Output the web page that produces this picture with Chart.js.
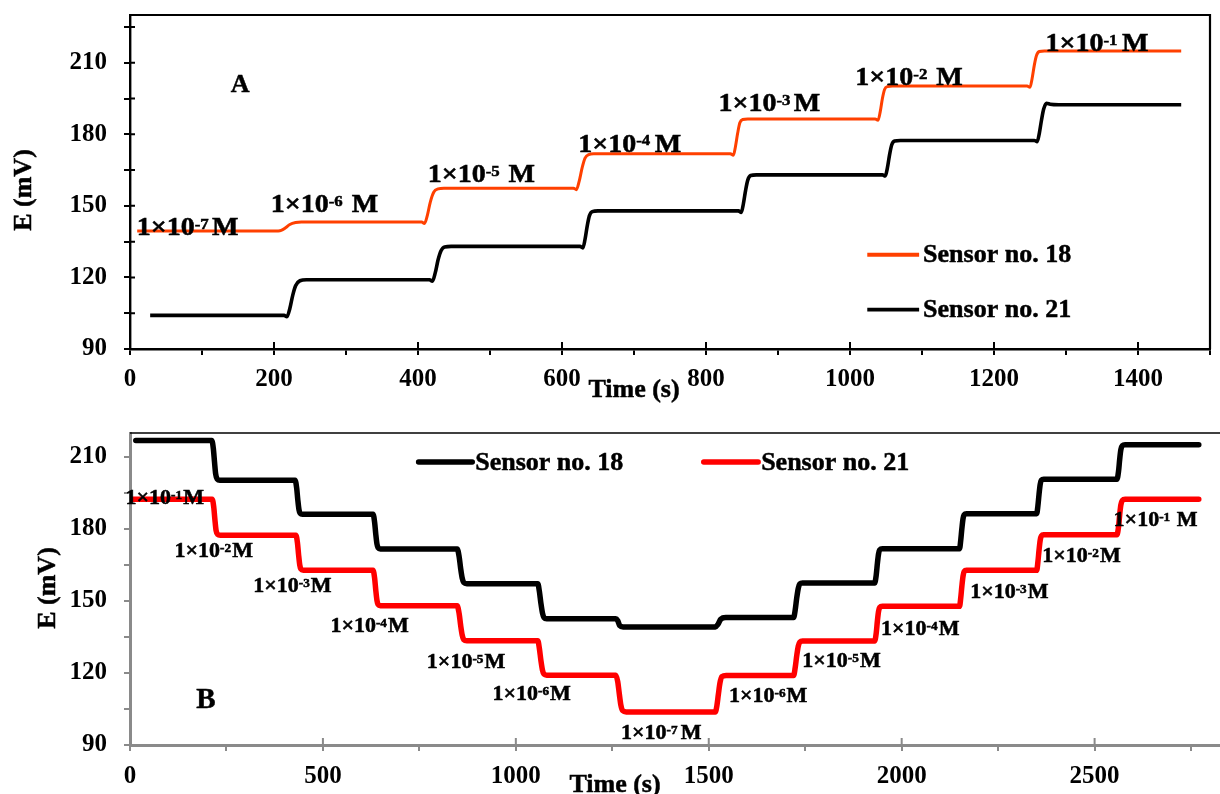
<!DOCTYPE html>
<html>
<head>
<meta charset="utf-8">
<script src="https://cdn.jsdelivr.net/npm/chart.js@4.4.1/dist/chart.umd.min.js"></script>
<style>
html,body{margin:0;padding:0;background:#fff;}
#wrap{position:relative;width:1220px;height:794px;overflow:hidden;background:#fff;}
#cA{position:absolute;left:0;top:0;}
#cB{position:absolute;left:0;top:400px;}
</style>
</head>
<body>
<div id="wrap">
<canvas id="cA" width="1220" height="412"></canvas>
<canvas id="cB" width="1220" height="394"></canvas>
</div>
<script>
// ---------------- DATA ----------------
// Panel A : increasing concentration, E (mV) vs time (s)
const a18Time = [10, 206, 210, 216, 222, 230, 238,
  405, 409, 413, 417, 422, 428, 436,
  616, 620, 624, 628, 632, 637, 644,
  834, 838, 841, 844, 847, 851, 858,
  1035, 1039, 1042, 1045, 1048, 1052, 1059,
  1246, 1250, 1253, 1256, 1259, 1263, 1270,
  1460];
const a18E = [139.5, 139.5, 139.7, 140.8, 142.2, 143.0, 143.2,
  143.2, 142.6, 146.0, 151.5, 155.8, 157.1, 157.4,
  157.4, 156.8, 160.5, 166.0, 170.0, 171.5, 171.8,
  171.8, 171.2, 175.0, 180.5, 184.8, 186.2, 186.4,
  186.4, 185.9, 189.5, 195.0, 198.8, 200.0, 200.2,
  200.2, 199.7, 203.5, 209.0, 213.0, 214.7, 214.9,
  214.9];
const a21Time = [28, 214, 218, 222, 226, 230, 236, 245,
  416, 420, 424, 428, 432, 437, 446,
  625, 629, 632, 635, 638, 642, 650,
  845, 849, 852, 855, 858, 862, 870,
  1045, 1049, 1052, 1055, 1058, 1062, 1070,
  1256, 1260, 1263, 1266, 1269, 1273, 1278, 1290,
  1460];
const a21E = [104.1, 104.1, 103.5, 107.0, 112.5, 116.5, 118.6, 119.0,
  119.0, 118.4, 122.0, 127.5, 131.2, 132.8, 133.0,
  133.0, 132.4, 136.0, 141.5, 145.8, 147.6, 147.9,
  147.9, 147.2, 151.0, 156.5, 160.8, 162.7, 163.0,
  163.0, 162.5, 166.0, 171.5, 175.6, 177.2, 177.4,
  177.4, 176.9, 180.5, 186.0, 190.6, 193.0, 192.6, 192.4,
  192.4];

// Panel B : decreasing then increasing concentration
const b18Time = [15, 212, 216, 219, 222, 226, 233,
  428, 432, 435, 438, 441, 447,
  630, 634, 637, 640, 643, 649,
  848, 853, 857, 861, 865, 873,
  1057, 1061, 1065, 1069, 1073, 1080,
  1259, 1264, 1269, 1278,
  1517, 1524, 1531, 1544,
  1720, 1724, 1728, 1732, 1736, 1743,
  1930, 1934, 1937, 1940, 1943, 1950,
  2150, 2153, 2156, 2159, 2162, 2168,
  2350, 2353, 2356, 2359, 2362, 2368,
  2558, 2562, 2565, 2568, 2572, 2579,
  2770];
const b18E = [216.9, 216.9, 213.5, 208.0, 203.0, 200.8, 200.3,
  200.3, 197.0, 192.0, 188.0, 186.5, 186.1,
  186.1, 182.8, 177.8, 173.8, 172.2, 171.7,
  171.7, 168.5, 163.5, 159.5, 157.7, 157.2,
  157.2, 154.0, 149.0, 145.0, 143.1, 142.6,
  142.6, 141.8, 139.8, 139.2,
  139.2, 140.3, 142.4, 143.1,
  143.1, 146.2, 151.3, 155.3, 157.1, 157.5,
  157.5, 160.8, 165.6, 169.6, 171.3, 171.8,
  171.8, 175.2, 180.2, 184.3, 185.9, 186.4,
  186.4, 189.6, 194.5, 198.6, 200.3, 200.7,
  200.7, 204.0, 209.0, 213.0, 214.7, 215.1,
  215.1];
const b21Time = [5, 213, 217, 220, 223, 227, 234,
  430, 434, 437, 440, 443, 449,
  630, 634, 637, 640, 643, 649,
  848, 853, 857, 861, 865, 873,
  1057, 1061, 1065, 1069, 1073, 1080,
  1259, 1264, 1268, 1272, 1277, 1286,
  1517, 1521, 1525, 1529, 1534, 1545,
  1720, 1724, 1728, 1732, 1736, 1743,
  1930, 1934, 1937, 1940, 1943, 1950,
  2150, 2153, 2156, 2159, 2162, 2168,
  2350, 2353, 2356, 2359, 2362, 2368,
  2558, 2562, 2565, 2568, 2572, 2579,
  2770];
const b21E = [192.4, 192.4, 189.2, 184.0, 179.5, 177.8, 177.4,
  177.4, 174.2, 169.2, 165.0, 163.3, 162.8,
  162.8, 159.5, 154.5, 150.3, 148.5, 148.0,
  148.0, 144.8, 139.8, 135.8, 133.9, 133.4,
  133.4, 130.2, 125.2, 121.2, 119.5, 119.1,
  119.1, 116.5, 111.5, 106.8, 104.3, 103.8,
  103.8, 106.3, 111.2, 115.8, 118.5, 119.0,
  119.0, 122.2, 127.2, 131.2, 132.9, 133.3,
  133.3, 136.6, 141.6, 145.6, 147.3, 147.8,
  147.8, 151.2, 156.2, 160.3, 162.3, 162.8,
  162.8, 166.2, 171.2, 175.3, 177.1, 177.6,
  177.6, 180.9, 185.9, 190.0, 191.9, 192.4,
  192.4];

const seriesNames = ['Sensor no. 18', 'Sensor no. 21'];

// Tick labels
const aXTickLabels = [0, 200, 400, 600, 800, 1000, 1200, 1400];
const bXTickLabels = [0, 500, 1000, 1500, 2000, 2500];
const yTickLabels = [90, 120, 150, 180, 210];

// Concentration annotations (exponent, anchor in data units)
const annotAExp = ['-7', '-6', '-5', '-4', '-3', '-2', '-1'];
const annotATime = [80, 270, 488, 694, 888, 1082, 1343];
const annotAE = [141.3, 150.8, 163.4, 176.2, 193.3, 204.1, 218.4];
const annotBExp = ['-1', '-2', '-3', '-4', '-5', '-6', '-7', '-6', '-5', '-4', '-3', '-2', '-1'];
const annotBTime = [90, 217, 421, 621, 871, 1041, 1377, 1654, 1844, 2048, 2279, 2466, 2658];
const annotBE = [193.3, 171.1, 156.5, 139.9, 125.0, 111.4, 95.4, 110.7, 125.3, 138.5, 154.2, 169.0, 183.9];

// ---------------- STYLE / LAYOUT ----------------
const FAM = '"Liberation Serif", "Times New Roman", serif';
const colA18 = '#ff4000', colA21 = '#000000';
const colB18 = '#000000', colB21 = '#ff0000';
const axisGrey = '#8a8a8a';

function pts(t, e) { return t.map((v, i) => ({ x: v, y: e[i] })); }
function tickList(from, to, step) { const a = []; for (let v = from; v <= to + 1e-9; v += step) a.push({ value: v }); return a; }

function concLabel(ctx, cx, cy, exp, size, gap, stretch) {
  const sup = Math.round(size * 0.6);
  ctx.font = `bold ${size}px ${FAM}`;
  const wB = ctx.measureText('1×10').width;
  const wM = ctx.measureText('M').width;
  ctx.font = `bold ${sup}px ${FAM}`;
  const wS = ctx.measureText(exp).width;
  const total = (wB + wS + gap + wM) * stretch;
  ctx.save();
  ctx.translate(cx - total / 2, cy + size * 0.33);
  ctx.scale(stretch, 1);
  ctx.textAlign = 'left'; ctx.textBaseline = 'alphabetic'; ctx.fillStyle = '#000';
  ctx.strokeStyle = '#000'; ctx.lineWidth = 0.5;
  ctx.font = `bold ${size}px ${FAM}`;
  ctx.fillText('1×10', 0, 0); ctx.strokeText('1×10', 0, 0);
  ctx.fillText('M', wB + wS + gap, 0); ctx.strokeText('M', wB + wS + gap, 0);
  ctx.font = `bold ${sup}px ${FAM}`;
  ctx.fillText(exp, wB, -size * 0.25); ctx.strokeText(exp, wB, -size * 0.25);
  ctx.restore();
}
function boldText(ctx, txt, x, y) { ctx.fillText(txt, x, y); ctx.lineWidth = 0.5; ctx.strokeStyle = ctx.fillStyle; ctx.strokeText(txt, x, y); }

function zeroPad(s) { s.paddingTop = 0; s.paddingBottom = 0; s.paddingLeft = 0; s.paddingRight = 0; }

function baseScaleX(max, tickStep, labels, height, col, bw, pad) {
  return {
    type: 'linear', min: 0, max: max,
    afterBuildTicks: s => { s.ticks = tickList(0, max, tickStep); },
    afterFit: s => { s.height = height; zeroPad(s); },
    grid: { drawOnChartArea: false, drawTicks: true, tickLength: 6, color: col, lineWidth: 2 },
    border: { display: true, color: col, width: bw },
    ticks: { autoSkip: false, maxRotation: 0, padding: pad, color: '#000',
      font: { family: FAM, size: 25, weight: 'bold' },
      callback: v => labels.includes(v) ? String(v) : '' }
  };
}
function baseScaleY(min, max, tickMax, col, bw) {
  return {
    type: 'linear', min: min, max: max,
    afterBuildTicks: s => { s.ticks = tickList(min, tickMax, 15); },
    afterFit: s => { s.width = 130; zeroPad(s); },
    grid: { drawOnChartArea: false, drawTicks: true, tickLength: 6, color: col, lineWidth: 2 },
    border: { display: true, color: col, width: bw },
    ticks: { autoSkip: false, padding: 17, color: '#000',
      font: { family: FAM, size: 25, weight: 'bold' },
      callback: v => yTickLabels.includes(v) ? String(v) : '' }
  };
}

// ---------------- PANEL A ----------------
const decorA = {
  id: 'decorA',
  afterDraw(chart) {
    const ctx = chart.ctx, a = chart.chartArea, x = chart.scales.x, y = chart.scales.y;
    ctx.save();
    // frame
    ctx.strokeStyle = '#000'; ctx.lineWidth = 2.2;
    ctx.beginPath();
    ctx.moveTo(a.left, a.top); ctx.lineTo(a.right, a.top); ctx.lineTo(a.right, a.bottom);
    ctx.stroke();
    // inner tick parts
    ctx.lineWidth = 2;
    ctx.beginPath();
    aXTickLabels.forEach(v => { if (v > 0) { const px = x.getPixelForValue(v); ctx.moveTo(px, a.bottom); ctx.lineTo(px, a.bottom - 7); } });
    y.ticks.forEach(t => { if (t.value > 90) { const py = y.getPixelForValue(t.value); ctx.moveTo(a.left, py); ctx.lineTo(a.left + 5, py); } });
    ctx.stroke();
    // annotations
    const gapsA = [3, 8, 8, 4, 3, 8, 4];
    annotAExp.forEach((e, i) => concLabel(ctx, x.getPixelForValue(annotATime[i]), y.getPixelForValue(annotAE[i]), e, 25, gapsA[i], 1.12));
    // panel letter
    ctx.fillStyle = '#000'; ctx.font = `bold 26px ${FAM}`; ctx.textAlign = 'center'; ctx.textBaseline = 'middle';
    boldText(ctx, 'A', x.getPixelForValue(153), y.getPixelForValue(200.7));
    // legend
    const legE = [129.5, 106.5], legC = [colA18, colA21];
    const lx0 = x.getPixelForValue(1024), lx1 = x.getPixelForValue(1096);
    legE.forEach((e, i) => {
      const py = y.getPixelForValue(e);
      ctx.strokeStyle = legC[i]; ctx.lineWidth = 3.8; ctx.lineCap = 'butt';
      ctx.beginPath(); ctx.moveTo(lx0, py); ctx.lineTo(lx1, py); ctx.stroke();
      ctx.fillStyle = '#000'; ctx.font = `bold 26px ${FAM}`; ctx.textAlign = 'left'; ctx.textBaseline = 'middle';
      boldText(ctx, chart.data.datasets[i].label, lx1 + 4, py + 1);
    });
    // axis titles
    ctx.fillStyle = '#000'; ctx.font = `bold 26px ${FAM}`;
    ctx.textAlign = 'center'; ctx.textBaseline = 'alphabetic';
    boldText(ctx, 'Time (s)', 634, 397);
    ctx.translate(31, 190); ctx.rotate(-Math.PI / 2);
    boldText(ctx, 'E (mV)', 0, 0);
    ctx.restore();
  }
};

new Chart(document.getElementById('cA'), {
  type: 'line',
  data: { datasets: [
    { label: seriesNames[0], data: pts(a18Time, a18E), borderColor: colA18, borderWidth: 3, pointRadius: 0, cubicInterpolationMode: 'monotone', fill: false },
    { label: seriesNames[1], data: pts(a21Time, a21E), borderColor: colA21, borderWidth: 3.6, pointRadius: 0, cubicInterpolationMode: 'monotone', fill: false }
  ] },
  options: {
    responsive: false, animation: false, events: [],
    layout: { padding: { left: 0, top: 15, right: 10, bottom: 0 } },
    plugins: { legend: { display: false }, tooltip: { enabled: false } },
    scales: {
      x: baseScaleX(1500, 100, aXTickLabels, 412 - 349, '#000', 2.4, 10),
      y: baseScaleY(90, 230, 225, '#000', 2.4)
    }
  },
  plugins: [decorA]
});

// ---------------- PANEL B ----------------
const decorB = {
  id: 'decorB',
  afterDraw(chart) {
    const ctx = chart.ctx, a = chart.chartArea, x = chart.scales.x, y = chart.scales.y;
    ctx.save();
    // top border
    ctx.strokeStyle = '#000'; ctx.lineWidth = 1.6;
    ctx.beginPath(); ctx.moveTo(a.left, a.top); ctx.lineTo(a.right, a.top); ctx.stroke();
    // inner part of major x ticks
    ctx.strokeStyle = axisGrey; ctx.lineWidth = 2;
    ctx.beginPath();
    bXTickLabels.forEach(v => { if (v > 0) { const px = x.getPixelForValue(v); ctx.moveTo(px, a.bottom); ctx.lineTo(px, a.bottom - 7); } });
    ctx.stroke();
    // annotations
    const gapsB = [1, 1, 1, 1, 1, 1, 3, 1, 1, 1, 1, 1, 6];
    annotBExp.forEach((e, i) => concLabel(ctx, x.getPixelForValue(annotBTime[i]), y.getPixelForValue(annotBE[i]), e, 20, gapsB[i], 1.1));
    // panel letter
    ctx.fillStyle = '#000'; ctx.font = `bold 29px ${FAM}`; ctx.textAlign = 'center'; ctx.textBaseline = 'middle';
    boldText(ctx, 'B', x.getPixelForValue(197), y.getPixelForValue(108.6));
    // legend (horizontal)
    const legT0 = [748, 1487], legT1 = [887, 1628], legC = [colB18, colB21];
    const py = y.getPixelForValue(207.9);
    legT0.forEach((t, i) => {
      const x0 = x.getPixelForValue(t), x1 = x.getPixelForValue(legT1[i]);
      ctx.strokeStyle = legC[i]; ctx.lineWidth = 5.5; ctx.lineCap = 'round';
      ctx.beginPath(); ctx.moveTo(x0, py); ctx.lineTo(x1, py); ctx.stroke();
      ctx.fillStyle = '#000'; ctx.font = `bold 26px ${FAM}`; ctx.textAlign = 'left'; ctx.textBaseline = 'middle';
      boldText(ctx, chart.data.datasets[i].label, x1 + 3, py + 1);
    });
    // axis titles
    ctx.fillStyle = '#000'; ctx.font = `bold 26px ${FAM}`;
    ctx.textAlign = 'center'; ctx.textBaseline = 'alphabetic';
    boldText(ctx, 'Time (s)', 615, 392);
    ctx.translate(55, 188); ctx.rotate(-Math.PI / 2);
    boldText(ctx, 'E (mV)', 0, 0);
    ctx.restore();
  }
};

new Chart(document.getElementById('cB'), {
  type: 'line',
  data: { datasets: [
    { label: seriesNames[0], data: pts(b18Time, b18E), borderColor: colB18, borderWidth: 5.5, pointRadius: 0, cubicInterpolationMode: 'monotone', fill: false, borderCapStyle: 'round', borderJoinStyle: 'round' },
    { label: seriesNames[1], data: pts(b21Time, b21E), borderColor: colB21, borderWidth: 5.5, pointRadius: 0, cubicInterpolationMode: 'monotone', fill: false, borderCapStyle: 'round', borderJoinStyle: 'round' }
  ] },
  options: {
    responsive: false, animation: false, events: [],
    layout: { padding: { left: 0, top: 33, right: 0, bottom: 0 } },
    plugins: { legend: { display: false }, tooltip: { enabled: false } },
    scales: {
      x: baseScaleX(2825, 250, bXTickLabels, 394 - 345, axisGrey, 3, 11),
      y: baseScaleY(90, 220, 210, axisGrey, 3)
    }
  },
  plugins: [decorB]
});
</script>
</body>
</html>
